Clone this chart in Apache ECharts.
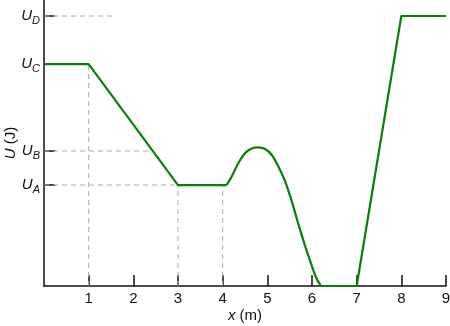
<!DOCTYPE html>
<html><head><meta charset="utf-8">
<script src="https://cdn.jsdelivr.net/npm/echarts@6/dist/echarts.min.js"></script>
<style>html,body{margin:0;padding:0;background:#fff}#c{width:450px;height:326px}</style>
</head><body><div id="c"></div>
<script>
// Energy levels (arbitrary units, axis 0..10)
const levelNames = ['A', 'B', 'C', 'D'];
const levelValues = [3.53, 4.72, 7.76, 9.44];
const xTicks = [1, 2, 3, 4, 5, 6, 7, 8, 9];

// Piecewise-linear parts of U(x)
const lineLeft = [[0, 7.76], [1, 7.76], [3, 3.53], [4.09, 3.53]];
// Smooth bump between x=4 and x=6.2
const bump = [[4.09, 3.53], [4.20, 3.82], [4.35, 4.29], [4.50, 4.64], [4.65, 4.81], [4.80, 4.85], [4.95, 4.79], [5.10, 4.58], [5.25, 4.17], [5.40, 3.65], [5.55, 2.95], [5.69, 2.19], [5.84, 1.43], [5.99, 0.73], [6.10, 0.27], [6.20, 0.0]];
const lineRight = [[6.20, 0.0], [7, 0.0], [8, 9.44], [9, 9.44]];

// Dashed guide lines
const guides = [
  [[0, 9.44], [1.55, 9.44]],
  [[0, 4.72], [2.44, 4.72]],
  [[0, 3.53], [3, 3.53]],
  [[1, 0], [1, 7.76]],
  [[3, 0], [3, 3.53]],
  [[4, 0], [4, 3.53]]
];

const font = 'Liberation Sans, Arial, sans-serif';
const green = '#0b7d0b';
const chart = echarts.init(document.getElementById('c'), null, {renderer: 'canvas'});
const guideSeries = guides.map(g => ({
  type: 'line', data: g, symbol: 'none', silent: true, z: 1,
  lineStyle: {color: '#aaaaaa', width: 1, type: [5, 4]}
}));
chart.setOption({
  animation: false,
  grid: {left: 44, right: 4, top: 0, bottom: 40, outerBoundsMode: 'none', containLabel: false},
  xAxis: {
    type: 'value', min: 0, max: 9, interval: 1,
    name: '{i|x} (m)', nameLocation: 'middle', nameGap: 22, nameMoveOverlap: false,
    nameTextStyle: {fontFamily: font, fontSize: 15, color: '#111', rich: {i: {fontStyle: 'italic', fontFamily: font, fontSize: 15, color: '#111'}}},
    axisLine: {lineStyle: {color: '#111', width: 1.5}},
    axisTick: {inside: true, length: 11, lineStyle: {color: '#111', width: 1.5}, customValues: xTicks},
    axisLabel: {fontFamily: font, fontSize: 15, color: '#111', margin: 5, customValues: xTicks},
    splitLine: {show: false}
  },
  yAxis: {
    type: 'value', min: 0, max: 10,
    name: '{i|U} (J)', nameLocation: 'middle', nameGap: 26, nameRotate: 90, nameMoveOverlap: false,
    nameTextStyle: {fontFamily: font, fontSize: 15, color: '#111', rich: {i: {fontStyle: 'italic', fontFamily: font, fontSize: 15, color: '#111'}}},
    axisLine: {show: true, lineStyle: {color: '#111', width: 1.5}},
    axisTick: {show: true, inside: true, length: 11, lineStyle: {color: '#111', width: 1.5}, customValues: levelValues},
    axisLabel: {
      customValues: levelValues, margin: 4,
      formatter: v => {
        const idx = levelValues.indexOf(v);
        return idx >= 0 ? '{u|U}{s|' + levelNames[idx] + '}' : '';
      },
      rich: {
        u: {fontFamily: font, fontStyle: 'italic', fontSize: 15, color: '#111', height: 20, verticalAlign: 'middle'},
        s: {fontFamily: font, fontStyle: 'italic', fontSize: 11, color: '#111', padding: [9, 0, 0, 0], verticalAlign: 'middle'}
      }
    },
    splitLine: {show: false}
  },
  series: guideSeries.concat([
    {type: 'line', data: lineLeft, symbol: 'none', z: 3, lineStyle: {color: green, width: 2.2}},
    {type: 'line', data: bump, symbol: 'none', smooth: 0.3, z: 3, lineStyle: {color: green, width: 2.2}},
    {type: 'line', data: lineRight, symbol: 'none', z: 3, lineStyle: {color: green, width: 2.2}}
  ])
});
</script></body></html>
